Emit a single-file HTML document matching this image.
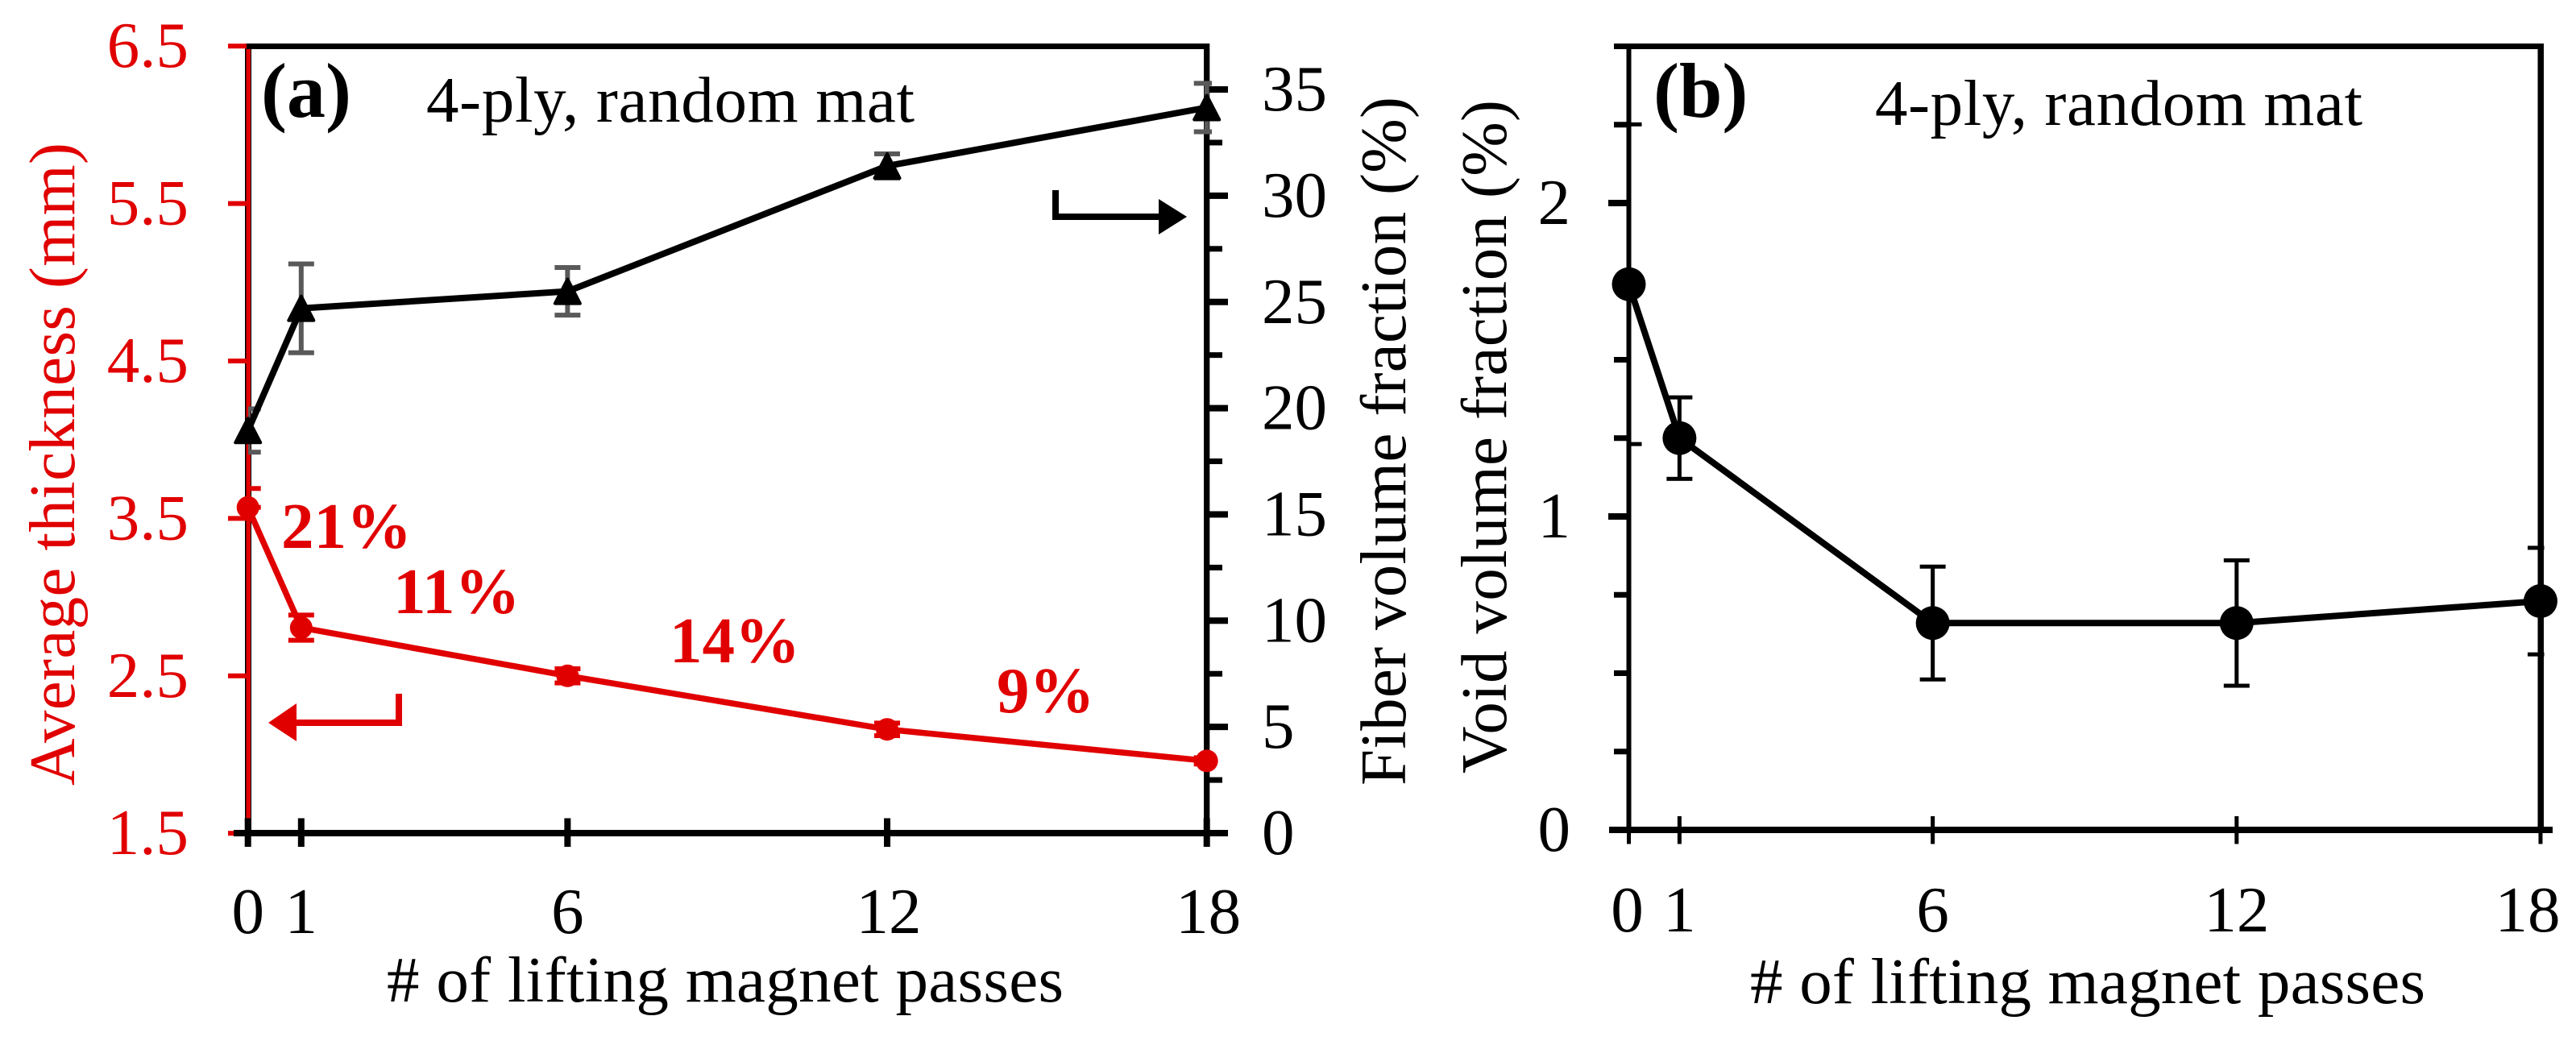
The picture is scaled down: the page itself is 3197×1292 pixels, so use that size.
<!DOCTYPE html>
<html lang="en">
<head>
<meta charset="utf-8">
<title>Thickness, fiber and void volume fraction vs lifting magnet passes</title>
<style>
  html, body { margin: 0; padding: 0; background: #fff; }
  svg { display: block; }
  text { font-family: "Liberation Serif", serif; }
</style>
</head>
<body>
<svg id="figure" xmlns="http://www.w3.org/2000/svg" width="3197" height="1292" viewBox="0 0 3197 1292">
  <rect x="0" y="0" width="3197" height="1292" fill="#fff"/>
  <defs>
    <clipPath id="clipA"><rect x="308" y="0" width="1196" height="1292"/></clipPath>
    <clipPath id="clipB"><rect x="2021" y="0" width="1136.5" height="1292"/></clipPath>
  </defs>
  <g id="panelA"></g>
  <g id="panelB"></g>

  <text x="324" y="145" font-size="96" font-weight="bold" fill="#000">(a)</text>
  <text x="529" y="151" font-size="81" fill="#000" textLength="606">4-ply, random mat</text>
  <text transform="translate(92 975) rotate(-90)" font-size="81" fill="#e10000" textLength="798">Average thickness (mm)</text>
  <text transform="translate(1744 975) rotate(-90)" font-size="81" fill="#000" textLength="855">Fiber volume fraction (%)</text>
  <text x="480" y="1243" font-size="81" fill="#000" textLength="840"># of lifting magnet passes</text>

  <text x="349" y="680" font-size="81" font-weight="bold" fill="#e10000">21%</text>
  <text x="488" y="761" font-size="81" font-weight="bold" fill="#e10000">11%</text>
  <text x="831" y="822" font-size="81" font-weight="bold" fill="#e10000">14%</text>
  <text x="1237" y="884" font-size="81" font-weight="bold" fill="#e10000">9%</text>

  <g fill="#e10000">
    <rect x="365" y="893" width="134" height="8"/>
    <rect x="491" y="861" width="8" height="40"/>
    <polygon points="333,897 368,873 368,920"/>
  </g>
  <g fill="#000">
    <rect x="1306" y="265" width="135" height="8"/>
    <rect x="1306" y="236" width="8" height="37"/>
    <polygon points="1473,269 1438,247 1438,291"/>
  </g>

  <text x="2052" y="145" font-size="96" font-weight="bold" fill="#000">(b)</text>
  <text x="2327" y="155" font-size="81" fill="#000" textLength="605">4-ply, random mat</text>
  <text transform="translate(1869 960) rotate(-90)" font-size="81" fill="#000" textLength="836">Void volume fraction (%)</text>
  <text x="2172" y="1245" font-size="81" fill="#000" textLength="838"># of lifting magnet passes</text>
</svg>

<script>
const passes = [0, 1, 6, 12, 18];
const passTickLabels = ["0", "1", "6", "12", "18"];

const thickness = [3.57, 2.806, 2.5, 2.16, 1.96];
const thicknessErrUp = [0.12, 0.08, 0.045, 0.04, 0.02];
const thicknessErrDown = [0, 0.08, 0.045, 0.04, 0.02];

const fiberVolume = [18.95, 24.7, 25.5, 31.4, 34.15];
const fiberErr = [1.02, 2.09, 1.12, 0.57, 1.14];

const voidVolume = [1.741, 1.25, 0.66, 0.66, 0.73];
const voidErr = [0.51, 0.13, 0.18, 0.2, 0.17];

const thicknessTicks = [1.5, 2.5, 3.5, 4.5, 5.5, 6.5];
const thicknessTickLabels = ["1.5", "2.5", "3.5", "4.5", "5.5", "6.5"];
const fiberMajorTicks = [0, 5, 10, 15, 20, 25, 30, 35];
const fiberMajorLabels = ["0", "5", "10", "15", "20", "25", "30", "35"];
const fiberMinorTicks = [2.5, 7.5, 12.5, 17.5, 22.5, 27.5, 32.5];
const voidMajorTicks = [0, 1, 2];
const voidMajorLabels = ["0", "1", "2"];
const voidMinorTicks = [0.25, 0.5, 0.75, 1.25, 1.5, 1.75, 2.25];

const RED = "#e10000";
const GRAY = "#595959";
const NS = "http://www.w3.org/2000/svg";

// Axis functions
const xA = v => 307.7 + v * 66.11;
const xB = v => 2021.5 + v * 62.86;
const yThick = v => 57.2 + (6.5 - v) * 195.4;
const yFiber = v => 1034 - v * 26.37;
const yVoid = v => 1030 - v * 389;

function node(parent, tag, name, attrs) {
  const el = document.createElementNS(NS, tag);
  
  
  for (const k in attrs) el.setAttribute(k, attrs[k]);
  parent.appendChild(el);
  return el;
}
function bar(parent, name, x1, y1, x2, y2, color) {
  return node(parent, 'rect', name, { x: Math.min(x1, x2), y: Math.min(y1, y2), width: Math.abs(x2 - x1), height: Math.abs(y2 - y1), fill: color });
}
function label(parent, name, x, y, str, anchor, color) {
  const t = node(parent, 'text', name, { x: x, y: y, 'font-size': 81, 'text-anchor': anchor, fill: color });
  t.textContent = str;
  return t;
}
function linePoints(xf, yf, values) {
  return values.map((v, i) => xf(passes[i]).toFixed(1) + ',' + yf(v).toFixed(1)).join(' ');
}
function errorBars(parent, name, xf, yf, values, up, down, color, clipId, stem, capH) {
  const g = node(parent, 'g', name, { 'clip-path': 'url(#' + clipId + ')' });
  values.forEach((v, i) => {
    const x = xf(passes[i]);
    const yTop = yf(v + up[i]);
    const yBot = yf(v - down[i]);
    bar(g, name + '-stem', x - stem / 2, yTop, x + stem / 2, yBot, color);
    bar(g, name + '-cap-upper', x - 16, yTop - capH / 2, x + 16, yTop + capH / 2, color);
    bar(g, name + '-cap-lower', x - 16, yBot - capH / 2, x + 16, yBot + capH / 2, color);
  });
  return g;
}

/* ---------- Panel (a) ---------- */
const pa = document.getElementById('panelA');

// Left thickness axis: black underlay with red on top
bar(pa, 'panel-a-left-axis-underlay', 304, 54, 312, 1034, '#000');
bar(pa, 'left-y-axis-line', 305.5, 54, 311, 1034, RED);
thicknessTicks.forEach((v, i) => {
  const y = yThick(v);
  bar(pa, 'left-y-tick', 283, y - 3, 306, y + 3, RED);
  label(pa, 'left-y-tick-label', 234, y + 26, thicknessTickLabels[i], 'end', RED);
});

// Frame
bar(pa, 'panel-a-top-border', 306, 54, 1501, 61, '#000');
bar(pa, 'right-y-axis-line', 1494, 54, 1501.3, 1034, '#000');
bar(pa, 'panel-a-x-axis-line', 290, 1030, 1524, 1038, '#000');

// Right fiber axis
fiberMajorTicks.forEach((v, i) => {
  const y = yFiber(v);
  bar(pa, 'right-y-tick', 1500, y - 4, 1524, y + 4, '#000');
  label(pa, 'right-y-tick-label', 1566, y + 26, fiberMajorLabels[i], 'start', '#000');
});
fiberMinorTicks.forEach(v => {
  const y = yFiber(v);
  bar(pa, 'right-y-minor-tick', 1500, y - 3.5, 1517, y + 3.5, '#000');
});

// X ticks
passes.forEach((v, i) => {
  const x = xA(v);
  bar(pa, 'panel-a-x-tick', x - 4, 1015.5, x + 4, 1051, '#000');
  label(pa, 'panel-a-x-tick-label', x + (i > 2 ? 2 : 0), 1158, passTickLabels[i], 'middle', '#000');
});

// Fiber series
errorBars(pa, 'fiber-error-bar', xA, yFiber, fiberVolume, fiberErr, fiberErr, GRAY, 'clipA', 6, 6);
node(pa, 'polyline', 'fiber-volume-line', { points: linePoints(xA, yFiber, fiberVolume), fill: 'none', stroke: '#000', 'stroke-width': 8 });
fiberVolume.forEach((v, i) => {
  const x = xA(passes[i]), y = yFiber(v);
  node(pa, 'polygon', 'fiber-volume-point', {
    points: x + ',' + (y - 15) + ' ' + (x - 15.5) + ',' + (y + 15) + ' ' + (x + 15.5) + ',' + (y + 15),
    fill: '#000', stroke: '#000', 'stroke-width': 4, 'stroke-linejoin': 'round'
  });
});

// Thickness series
errorBars(pa, 'thickness-error-bar', xA, yThick, thickness, thicknessErrUp, thicknessErrDown, RED, 'clipA', 5, 6);
node(pa, 'polyline', 'thickness-line', { points: linePoints(xA, yThick, thickness), fill: 'none', stroke: RED, 'stroke-width': 7.5 });
thickness.forEach((v, i) => {
  node(pa, 'circle', 'thickness-point', { cx: xA(passes[i]), cy: yThick(v), r: 14, fill: RED });
});

/* ---------- Panel (b) ---------- */
const pb = document.getElementById('panelB');

bar(pb, 'panel-b-left-axis-line', 2018.5, 54, 2024.5, 1030, '#000');
bar(pb, 'panel-b-right-axis-line', 3149.5, 54, 3157, 1030, '#000');
bar(pb, 'panel-b-top-border', 2003, 54, 3157, 61, '#000');
bar(pb, 'panel-b-x-axis-line', 1997, 1026, 3168, 1034, '#000');

voidMajorTicks.forEach((v, i) => {
  const y = yVoid(v);
  if (v > 0) bar(pb, 'panel-b-y-tick', 1996, y - 4, 2020, y + 4, '#000');
  label(pb, 'panel-b-y-tick-label', 1949, y + 26, voidMajorLabels[i], 'end', '#000');
});
voidMinorTicks.forEach(v => {
  const y = yVoid(v);
  bar(pb, 'panel-b-y-minor-tick', 2003, y - 3.5, 2020, y + 3.5, '#000');
});

passes.forEach((v, i) => {
  const x = xB(v);
  bar(pb, 'panel-b-x-tick', x - 2.5, 1013, x + 2.5, 1047.5, '#000');
  label(pb, 'panel-b-x-tick-label', Math.min(x, 3137) - (i === 0 ? 2 : 0), 1156, passTickLabels[i], 'middle', '#000');
});

errorBars(pb, 'void-error-bar', xB, yVoid, voidVolume, voidErr, voidErr, '#000', 'clipB', 5, 5);
node(pb, 'polyline', 'void-volume-line', { points: linePoints(xB, yVoid, voidVolume), fill: 'none', stroke: '#000', 'stroke-width': 8 });
voidVolume.forEach((v, i) => {
  node(pb, 'circle', 'void-volume-point', { cx: xB(passes[i]), cy: yVoid(v), r: 21, fill: '#000' });
});
</script>
</body>
</html>
